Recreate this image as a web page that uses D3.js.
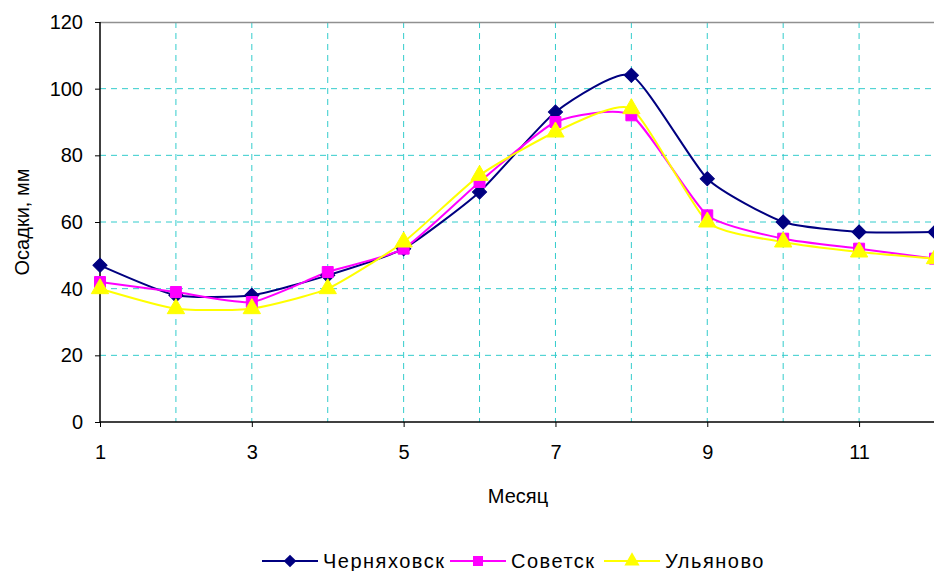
<!DOCTYPE html>
<html><head><meta charset="utf-8">
<script src="https://cdn.jsdelivr.net/npm/d3@7"></script>
<style>body{margin:0;background:#fff}svg{display:block}text{font-family:"Liberation Sans",Arial,sans-serif;fill:#000}</style>
</head><body><svg id="c" width="934" height="571"></svg>
<script>
const months = [1,2,3,4,5,6,7,8,9,10,11,12];
const xTickLabels = [1,3,5,7,9,11];
const yTicks = [0,20,40,60,80,100,120];
const seriesNames = ["Черняховск","Советск","Ульяново"];
const chernyakhovsk = [47,38,38,44,52,69,93,104,73,60,57,57];
const sovetsk = [42,39,36,45,52,72,90,92,62,55,52,49];
const ulyanovo = [40,34,34,40,54,74,87,94,60,54,51,49];
const colors = ["#000080","#FF00FF","#FFFF00"];
const markers = [d3.symbolSquare, d3.symbolSquare, d3.symbolTriangle];
const rot = [45,0,0];

const svg = d3.select("#c");
const x = d3.scaleLinear().domain([1,12]).range([100,935]);
const y = d3.scaleLinear().domain([0,120]).range([422,22]);
const FS = 20;

// grid
svg.append("g").selectAll("line").data(yTicks.filter(t=>t>0&&t<120)).join("line")
  .attr("x1",100).attr("x2",935).attr("y1",d=>y(d)).attr("y2",d=>y(d))
  .attr("stroke","#33CCCC").attr("stroke-width",1).attr("stroke-dasharray","6,5");
svg.append("g").selectAll("line").data(months.filter(m=>m>1)).join("line")
  .attr("x1",d=>x(d)).attr("x2",d=>x(d)).attr("y1",22).attr("y2",422)
  .attr("stroke","#33CCCC").attr("stroke-width",1).attr("stroke-dasharray","6,5");
svg.append("line").attr("x1",100).attr("x2",935).attr("y1",22.5).attr("y2",22.5)
  .attr("stroke","#909090").attr("stroke-width",1.5);

// axes
const yAxis = d3.axisLeft(y).tickValues(yTicks).tickSize(5).tickPadding(12);
const gy = svg.append("g").attr("transform","translate(100,0)").call(yAxis);
const xAxis = d3.axisBottom(x).tickValues(xTickLabels).tickSize(5).tickPadding(18).tickFormat(d3.format("d"));
const gx = svg.append("g").attr("transform","translate(0,422)").call(xAxis);
[gx,gy].forEach(g=>{
  g.select(".domain").attr("stroke","#000").attr("stroke-width",1.5);
  g.selectAll(".tick line").attr("stroke","#000");
  g.selectAll("text").attr("font-size",FS).attr("font-family","Liberation Sans, Arial, sans-serif").attr("fill","#000");
});
gx.select(".domain").attr("d","M100,0H935");
gy.select(".domain").attr("d","M0,22V422");

svg.append("text").attr("x",518).attr("y",503).attr("text-anchor","middle").attr("font-size",FS).text("Месяц");
svg.append("text").attr("transform","translate(29,222) rotate(-90)").attr("text-anchor","middle").attr("font-size",FS).text("Осадки, мм");

const data = [chernyakhovsk, sovetsk, ulyanovo];
const line = d3.line().x((d,i)=>x(months[i])).y(d=>y(d)).curve(d3.curveCardinal.tension(0.45));
const order = [0,1,2];
order.forEach(k=>{
  svg.append("path").attr("d",line(data[k])).attr("fill","none").attr("stroke",colors[k]).attr("stroke-width",2);
});
const sizes = [100,120,130];
order.forEach(k=>{
  svg.append("g").selectAll("path").data(data[k]).join("path")
    .attr("transform",(d,i)=>`translate(${x(months[i])},${y(d)}) rotate(${rot[k]})`)
    .attr("d",d3.symbol().type(markers[k]).size(sizes[k])).attr("fill",colors[k]).attr("stroke",colors[k]);
});

// legend
const legX = [262,450,604];
const leg = svg.append("g");
seriesNames.forEach((n,k)=>{
  const g = leg.append("g").attr("transform",`translate(${legX[k]},561)`);
  g.append("line").attr("x1",0).attr("x2",56).attr("stroke",colors[k]).attr("stroke-width",2);
  g.append("path").attr("transform",`translate(28,0) rotate(${rot[k]})`).attr("d",d3.symbol().type(markers[k]).size(k===0?80:100)).attr("fill",colors[k]);
  g.append("text").attr("x",61).attr("y",7).attr("font-size",FS).attr("letter-spacing","1.5px").text(n);
});
</script></body></html>
